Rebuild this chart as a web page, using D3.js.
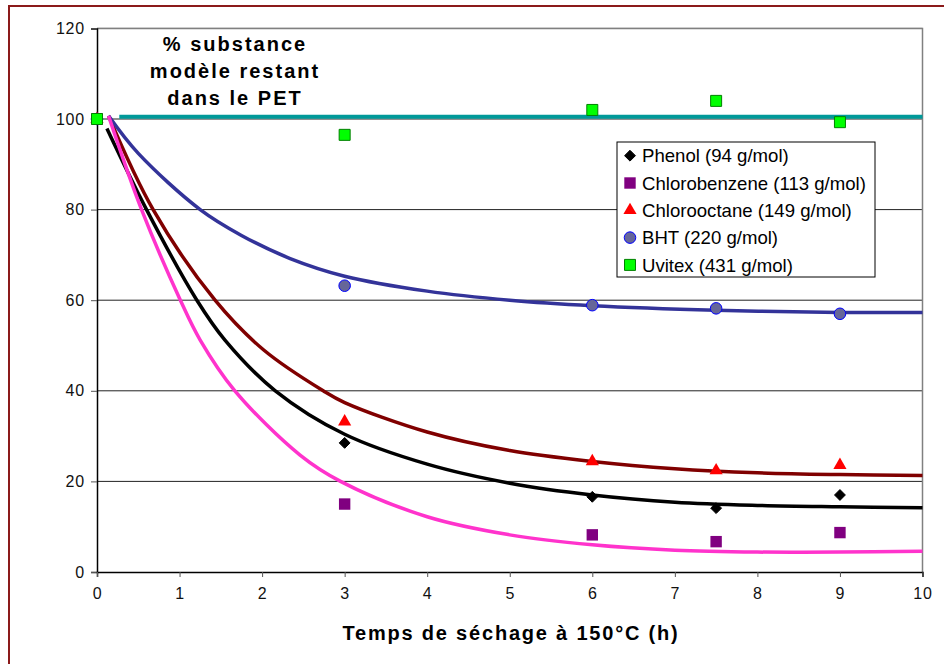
<!DOCTYPE html>
<html>
<head>
<meta charset="utf-8">
<script src="https://cdn.jsdelivr.net/npm/d3@7"></script>
<style>
  body { margin: 0; background: #fff; }
  svg { display: block; font-family: Arial, "Liberation Sans", sans-serif; }
</style>
</head>
<body>
<div id="chart"></div>
<script>
// ==========================================
// 1. DONNÉES
// ==========================================

const width = 944;
const height = 664;

// temps de séchage (h) des mesures
const timePoints = [0, 3, 6, 7.5, 9];

// % restant mesuré
const phenolPts = [100, 28.5, 16.6, 14.1, 17.0];
const chlorobenzenePts = [100, 15.0, 8.2, 6.7, 8.7];
const chlorooctanePts = [100, 33.2, 24.4, 22.4, 23.6];
const bhtPts = [100, 63.2, 58.9, 58.2, 57.0];
const uvitexPts = [100, 96.5, 102.0, 104.0, 99.3];

// courbes d'ajustement
const phenolFitX = [0.12, 0.6, 1.21, 1.55, 2.16, 3, 4, 5, 6, 7, 8, 9, 10];
const phenolFitY = [97.9, 80, 60, 51.2, 40, 30.4, 23.8, 19.6, 17.0, 15.4, 14.7, 14.4, 14.2];
const chlorobenzeneFitX = [0.14, 0.54, 1.01, 1.25, 1.67, 2.46, 2.95, 4, 5, 6, 7, 8, 9, 10];
const chlorobenzeneFitY = [100.7, 80, 60, 51.2, 40, 25.8, 20, 12.2, 8.2, 6.0, 4.8, 4.4, 4.4, 4.6];
const chlorooctaneFitX = [0.14, 0.68, 1.43, 2.02, 2.74, 3, 4, 5, 6, 7, 8, 9, 10];
const chlorooctaneFitY = [100.7, 80, 60, 49, 40, 37.4, 30.9, 26.8, 24.4, 22.8, 21.9, 21.5, 21.3];
const bhtFitX = [0.14, 0.5, 1.25, 1.75, 2.34, 3, 4, 5, 6, 7.5, 9, 10];
const bhtFitY = [100.7, 92.4, 80, 74.3, 69.2, 65.3, 62.0, 60.0, 58.8, 57.8, 57.3, 57.3];
const uvitexFitX = [0.27, 10];
const uvitexFitY = [100.5, 100.5];

const legendLabels = [
    "Phenol (94 g/mol)", "Chlorobenzene (113 g/mol)", "Chlorooctane (149 g/mol)",
    "BHT (220 g/mol)", "Uvitex (431 g/mol)"
];

const xTicks = [0, 1, 2, 3, 4, 5, 6, 7, 8, 9, 10];
const yTicks = [0, 20, 40, 60, 80, 100, 120];

const titleLines = ["% substance", "modèle restant", "dans le PET"];
const xTitle = "Temps de séchage à 150°C (h)";


// ==========================================
// 2. SVG ET ÉCHELLES
// ==========================================

const svg = d3.select("#chart").append("svg")
    .attr("width", width).attr("height", height);

// cadre rouge foncé (coupé à droite et en bas)
svg.append("rect")
    .attr("x", 9).attr("y", 6).attr("width", 1000).attr("height", 700)
    .attr("fill", "none").attr("stroke", "#8b1a1a").attr("stroke-width", 2);

const x = d3.scaleLinear().domain([0, 10]).range([97, 922.5]);
const y = d3.scaleLinear().domain([0, 120]).range([572, 28.4]);

// grille
svg.append("g").selectAll("line").data(yTicks.filter(d => d > 0)).enter().append("line")
    .attr("x1", x(0)).attr("x2", x(10))
    .attr("y1", d => y(d)).attr("y2", d => y(d))
    .attr("stroke", "#222").attr("stroke-width", 1);

// bords haut et droite
svg.append("path")
    .attr("d", `M${x(0)},${y(120)}H${x(10)}V${y(0)}`)
    .attr("fill", "none").attr("stroke", "#808080").attr("stroke-width", 1.5);

// axes
const axisY = svg.append("g").attr("transform", `translate(${x(0)},0)`)
    .call(d3.axisLeft(y).tickValues(yTicks).tickSize(6).tickPadding(6));
const axisX = svg.append("g").attr("transform", `translate(0,${y(0)})`)
    .call(d3.axisBottom(x).tickValues(xTicks).tickSize(5).tickPadding(11));

[axisX, axisY].forEach(a => {
    a.select(".domain").attr("stroke", "#000").attr("stroke-width", 1.5);
    a.selectAll(".tick line").attr("stroke", "#555");
    a.selectAll("text").attr("font-size", 16).attr("fill", "#111")
        .attr("font-family", "Arial, 'Liberation Sans', sans-serif")
        .style("letter-spacing", "0.8px");
});


// ==========================================
// 3. COURBES ET POINTS
// ==========================================

const line = d3.line().x(d => x(d[0])).y(d => y(d[1])).curve(d3.curveCatmullRom.alpha(0.5));
const zip = (xs, ys) => xs.map((v, i) => [v, ys[i]]);

const fits = [
    { xs: phenolFitX, ys: phenolFitY, color: "#000000" },
    { xs: chlorooctaneFitX, ys: chlorooctaneFitY, color: "#800000" },
    { xs: bhtFitX, ys: bhtFitY, color: "#333399" },
    { xs: chlorobenzeneFitX, ys: chlorobenzeneFitY, color: "#ff33cc" },
    { xs: uvitexFitX, ys: uvitexFitY, color: "#009999" }
];

fits.forEach(f => {
    svg.append("path").datum(zip(f.xs, f.ys))
        .attr("d", line).attr("fill", "none")
        .attr("stroke", f.color).attr("stroke-width", f.color === "#009999" ? 4 : 3.5);
});

const series = [
    { vals: phenolPts, type: d3.symbolDiamond2, size: 75, fill: "#000", stroke: "#000" },
    { vals: chlorobenzenePts, type: d3.symbolSquare, size: 130, fill: "#800080", stroke: "none" },
    { vals: chlorooctanePts, type: d3.symbolTriangle, size: 75, fill: "#ff0000", stroke: "none" },
    { vals: bhtPts, type: d3.symbolCircle, size: 105, fill: "#666699", stroke: "#0000ff" },
    { vals: uvitexPts, type: d3.symbolSquare, size: 121, fill: "#00ff00", stroke: "#008000" }
];

series.forEach(s => {
    svg.append("g").selectAll("path").data(zip(timePoints, s.vals)).enter().append("path")
        .attr("d", d3.symbol().type(s.type).size(s.size))
        .attr("transform", d => `translate(${x(d[0])},${y(d[1])})`)
        .attr("fill", s.fill).attr("stroke", s.stroke).attr("stroke-width", 1);
});


// ==========================================
// 4. LÉGENDE ET TITRES
// ==========================================

const legend = svg.append("g");
legend.append("rect")
    .attr("x", 617).attr("y", 142).attr("width", 258).attr("height", 135)
    .attr("fill", "#fff").attr("stroke", "#000").attr("stroke-width", 1);

legendLabels.forEach((label, i) => {
    const cy = 155.7 + i * 27.3;
    const s = series[i];
    legend.append("path")
        .attr("d", d3.symbol().type(s.type).size(s.size))
        .attr("transform", `translate(630,${cy})`)
        .attr("fill", s.fill).attr("stroke", s.stroke).attr("stroke-width", 1);
    legend.append("text")
        .attr("x", 642).attr("y", cy + 6.6)
        .attr("font-size", 18.6).attr("fill", "#000")
        .text(label);
});

svg.append("g").selectAll("text").data(titleLines).enter().append("text")
    .attr("x", 235).attr("y", (d, i) => 51 + i * 27)
    .attr("text-anchor", "middle")
    .attr("font-size", 20).attr("font-weight", "bold")
    .style("letter-spacing", "2px")
    .text(d => d);

svg.append("text")
    .attr("x", 511).attr("y", 640)
    .attr("text-anchor", "middle")
    .attr("font-size", 20).attr("font-weight", "bold")
    .style("letter-spacing", "1.8px")
    .text(xTitle);
</script>
</body>
</html>
